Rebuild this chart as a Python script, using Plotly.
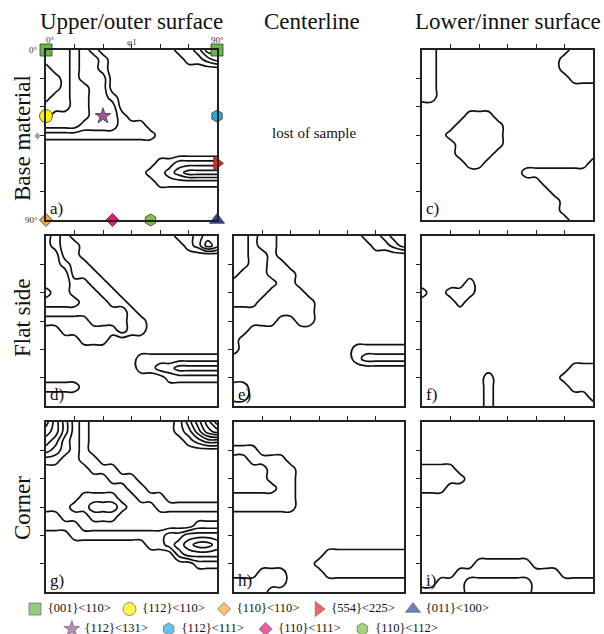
import plotly.graph_objects as go

W, H = 604, 634
SERIF = "Liberation Serif, Times New Roman, serif"

# grid nodes of the phi2 = 45 deg ODF section (degrees)
GRID_DEG = [0, 5, 10, 15, 20, 25, 30, 35, 40, 45, 50, 55, 60, 65, 70, 75, 80, 85, 90]
TICK_DEG = [15, 30, 45, 60, 75]

# ODF contour level at each node: one string per Phi row (0..90 step 5),
# one hex digit per phi1 column (0..90 step 5)
ODF_A = [
    "4443210000000011244",
    "4443221000000001123",
    "5443221000000000000",
    "5543222000000000000",
    "5543322000000000000",
    "5443322100000000000",
    "4443322200000000000",
    "4333322210000000000",
    "3333222211100000000",
    "1111111111110000000",
    "0000000000000000000",
    "0000000000000000000",
    "0000000000001122222",
    "0000000000011234444",
    "0000000000001111111",
    "0000000000000000000",
    "0000000000000000000",
    "0000000000000000000",
    "0000000000000000000",
]
ODF_C = [
    "1100000000000000111",
    "1100000000000001111",
    "1100000000000001111",
    "1100000000000000111",
    "1100000000000000000",
    "1100000000000000000",
    "0000000000000000000",
    "0000011100000000000",
    "0000111110000000000",
    "0001111110000000000",
    "0000111110000000000",
    "0000111100000000000",
    "0000011000000000001",
    "0000000000011111111",
    "0000000000000111111",
    "0000000000000011111",
    "0000000000000001111",
    "0000000000000001111",
    "0000000000000000111",
]
ODF_D = [
    "3210000000000011233",
    "3211000000000001243",
    "3311000000000000000",
    "3321100000000000000",
    "3331110000000000000",
    "3332211000000000000",
    "4332221100000000000",
    "3333222110000000000",
    "2222222221000000000",
    "1111122221100000000",
    "0011111121100000000",
    "0000111000000000000",
    "0000000000000000000",
    "0000000000111111111",
    "0000000000112233333",
    "0000000000000111111",
    "1111000000000000000",
    "0000000000000000000",
    "0000000000000000000",
]
ODF_E = [
    "3321100000000011233",
    "3321100000000001123",
    "3322100000000000000",
    "3322110000000000000",
    "3222111000000000000",
    "2222211000000000000",
    "2222111100000000000",
    "2221111110000000000",
    "1111111110000000000",
    "1111100110000000000",
    "1100000000000000000",
    "1000000000000000000",
    "1000000000000111111",
    "0000000000000122222",
    "0000000000000000000",
    "0000000000000000000",
    "1100000000000000000",
    "1100000000000000000",
    "0000000000000000000",
]
ODF_F = [
    "0000000000000000000",
    "0000000000000000000",
    "0000000000000000000",
    "0000000000000000000",
    "0000000000000000000",
    "0000010000000000000",
    "1001110000000000000",
    "0000100000000000000",
    "0000000000000000000",
    "0000000000000000000",
    "0000000000000000000",
    "0000000000000000000",
    "0000000000000000000",
    "0000000000000000000",
    "0000000000000000111",
    "0000000100000001111",
    "0000000100000000111",
    "0000000100000000001",
    "0000000100000000000",
]
ODF_G = [
    "6420100000000013579",
    "5420100000000012467",
    "4310100000000001233",
    "3210100000000000000",
    "1100110000000000000",
    "0000011100000000000",
    "0000000111000000000",
    "0000000001100000000",
    "0000111100111000000",
    "0001122210001111111",
    "1100011100000000000",
    "1111000000000000111",
    "0001111111111223333",
    "0000000000011234554",
    "0000000000000023333",
    "0000000000000000111",
    "0000000000000000000",
    "0000000000000000000",
    "0000000000000000000",
]
ODF_H = [
    "0000000000000000000",
    "0000000000000000000",
    "0000000000000000000",
    "1110000000000000000",
    "2211110000000000000",
    "2222111000000000000",
    "2222111000000000000",
    "2222211000000000000",
    "1111111000000000000",
    "1111111000000000000",
    "0000000000000000000",
    "0000000000000000000",
    "0000000000000000000",
    "0000000000000000000",
    "0000000000111111111",
    "0000000001111111111",
    "0001110000111111111",
    "1111110000000000000",
    "1111000000000000000",
]
ODF_I = [
    "0000000000000000000",
    "0000000000000000000",
    "0000000000000000000",
    "0000000000000000000",
    "0000000000000000000",
    "1111000000000000000",
    "1111100000000000000",
    "1110000000000000000",
    "0000000000000000000",
    "0000000000000000000",
    "0000000000000000000",
    "0000000000000000000",
    "0000000000000000000",
    "0000000000000000000",
    "0000000000000000000",
    "0000001111110000000",
    "0000111111111110000",
    "0011122222221111111",
    "1111122222221111111",
]

COLUMN_TITLES = ["Upper/outer surface", "Centerline", "Lower/inner surface"]
ROW_TITLES = ["Base material", "Flat side", "Corner"]
MISSING_NOTE = "lost of sample"

# ideal texture components (phi1, Phi) marked on panel a)
COMP_LABELS = ["{001}<110>", "{112}<110>", "{110}<110>", "{554}<225>", "{011}<100>",
               "{112}<131>", "{112}<111>", "{110}<111>", "{110}<112>"]
COMP_PHI1 = [[0, 90], [0], [0], [90], [90], [30], [90], [35], [55]]
COMP_PHI = [[0, 0], [35], [90], [60], [90], [35], [35], [90], [90]]

COMP_SYMBOL = ["square", "circle", "diamond", "triangle-right", "triangle-up",
               "star", "hexagon", "diamond", "hexagon"]
COMP_COLOR = ["#63b946", "#fff200", "#f9a73c", "#ec2227", "#2c4d9e",
              "#a4519b", "#27a9e1", "#e6197a", "#7cc243"]
COMP_SIZE = [12, 13, 10, 13, 13, 12, 12, 10, 12]

PANELS = [
    ("a)", 0, 0, ODF_A),
    ("c)", 0, 2, ODF_C),
    ("d)", 1, 0, ODF_D),
    ("e)", 1, 1, ODF_E),
    ("f)", 1, 2, ODF_F),
    ("g)", 2, 0, ODF_G),
    ("h)", 2, 1, ODF_H),
    ("i)", 2, 2, ODF_I),
]

COL_PX = [(46, 217), (234, 404), (422, 593)]
ROW_PX = [(50, 220), (236, 406), (422, 592)]


def xdom(c):
    return [COL_PX[c][0] / W, COL_PX[c][1] / W]


def ydom(r):
    return [1 - ROW_PX[r][1] / H, 1 - ROW_PX[r][0] / H]


def parse(rows):
    n = len(GRID_DEG)
    return [[int(ch, 16) for ch in row.ljust(n, "0")[:n]] for row in rows]


def esc(s):
    return s.replace("<", "&lt;").replace(">", "&gt;")


fig = go.Figure()
layout = {}
annotations = []

for k, (letter, r, c, rows) in enumerate(PANELS, start=1):
    sfx = "" if k == 1 else str(k)
    xa, ya = "x" + sfx, "y" + sfx
    fig.add_trace(go.Contour(
        x=GRID_DEG, y=GRID_DEG, z=parse(rows), xaxis=xa, yaxis=ya,
        autocontour=False,
        contours=dict(start=0.5, end=12.5, size=1, coloring="lines", showlabels=False),
        line=dict(width=1.7, smoothing=1.3),
        colorscale=[[0, "#111111"], [1, "#111111"]],
        showscale=False, hoverinfo="skip", showlegend=False,
    ))
    axis_common = dict(range=[0, 90], showgrid=False, zeroline=False, showline=True,
                       linecolor="#222222", linewidth=1.8, mirror=True,
                       ticks="outside", ticklen=4, tickwidth=1, tickcolor="#222222",
                       tickvals=TICK_DEG, showticklabels=False, fixedrange=True)
    layout["xaxis" + sfx] = dict(axis_common, domain=xdom(c), anchor=ya, side="top")
    ycommon = dict(axis_common)
    ycommon["range"] = [90, 0]
    layout["yaxis" + sfx] = dict(ycommon, domain=ydom(r), anchor=xa, side="left")
    annotations.append(dict(text=letter, xref=xa, yref=ya, x=0, y=90, xanchor="left",
                            yanchor="bottom", xshift=2, yshift=0, showarrow=False,
                            font=dict(family=SERIF, size=17, color="#111")))

# ideal component markers on panel a)
for lab, p1, ph, sym, col, sz in zip(COMP_LABELS, COMP_PHI1, COMP_PHI, COMP_SYMBOL,
                                     COMP_COLOR, COMP_SIZE):
    fig.add_trace(go.Scatter(
        x=p1, y=ph, xaxis="x", yaxis="y", mode="markers", cliponaxis=False,
        marker=dict(symbol=sym, color=col, size=sz, line=dict(color="#3a3a3a", width=0.8)),
        hoverinfo="skip", showlegend=False,
    ))

# legend drawn on its own axis: item index across, row index down
LEG_ROWS = [list(range(0, 5)), list(range(5, 9))]
LEG_START = [0.0, 0.39]
LEG_STEP = [1.0, 1.025]
TEXT_GAP = 0.135
for row_i, idxs in enumerate(LEG_ROWS):
    xs = [LEG_START[row_i] + LEG_STEP[row_i] * n for n in range(len(idxs))]
    ys = [row_i] * len(idxs)
    fig.add_trace(go.Scatter(
        x=xs, y=ys, xaxis="x9", yaxis="y9", mode="markers", cliponaxis=False,
        marker=dict(symbol=[COMP_SYMBOL[i] for i in idxs], color=[COMP_COLOR[i] for i in idxs],
                    size=[COMP_SIZE[i] for i in idxs], line=dict(color="#3a3a3a", width=0.8)),
        hoverinfo="skip", showlegend=False,
    ))
    fig.add_trace(go.Scatter(
        x=[x + TEXT_GAP for x in xs], y=ys, xaxis="x9", yaxis="y9", mode="text",
        cliponaxis=False, text=[esc(COMP_LABELS[i]) for i in idxs],
        textposition="middle right",
        textfont=dict(family=SERIF, size=12.5, color="#111"),
        hoverinfo="skip", showlegend=False,
    ))

layout["xaxis9"] = dict(domain=[0, 1], range=[-35 / 94.5, (W - 35) / 94.5], visible=False,
                        anchor="y9", fixedrange=True)
layout["yaxis9"] = dict(domain=[0, 38 / H], range=[1.25, -0.65], visible=False,
                        anchor="x9", fixedrange=True)

# column and row titles
COL_TITLE_X = [131, 312, 508]
for t, xpx in zip(COLUMN_TITLES, COL_TITLE_X):
    annotations.append(dict(text=t, xref="paper", yref="paper", x=xpx / W, y=1 - 21 / H,
                            xanchor="center", yanchor="middle", showarrow=False,
                            font=dict(family=SERIF, size=23, color="#111")))
ROW_TITLE_Y = [138, 318, 508]
for t, ypx in zip(ROW_TITLES, ROW_TITLE_Y):
    annotations.append(dict(text=t, xref="paper", yref="paper", x=22 / W, y=1 - ypx / H,
                            xanchor="center", yanchor="middle", textangle=-90,
                            showarrow=False, font=dict(family=SERIF, size=23, color="#111")))
annotations.append(dict(text=MISSING_NOTE, xref="paper", yref="paper", x=314 / W,
                        y=1 - 133 / H, xanchor="center", yanchor="middle", showarrow=False,
                        font=dict(family=SERIF, size=15, color="#111")))

# axis labels of panel a)
small = dict(family=SERIF, size=9, color="#333")
annotations += [
    dict(text="0°", xref="x", yref="y", x=0, y=0, xanchor="left", yanchor="bottom",
         yshift=3, xshift=-2, showarrow=False, font=small),
    dict(text="90°", xref="x", yref="y", x=90, y=0, xanchor="center", yanchor="bottom",
         yshift=3, showarrow=False, font=small),
    dict(text="φ1", xref="x", yref="y", x=45, y=0, xanchor="center", yanchor="bottom",
         yshift=1, showarrow=False, font=small),
    dict(text="0°", xref="x", yref="y", x=0, y=0, xanchor="right", yanchor="middle",
         xshift=-6, showarrow=False, font=small),
    dict(text="90°", xref="x", yref="y", x=0, y=90, xanchor="right", yanchor="middle",
         xshift=-6, showarrow=False, font=small),
    dict(text="ϕ", xref="x", yref="y", x=0, y=45, xanchor="right", yanchor="middle",
         xshift=-4, showarrow=False, font=small),
]

fig.update_layout(
    width=W, height=H, autosize=False,
    margin=dict(l=0, r=0, t=0, b=0),
    paper_bgcolor="white", plot_bgcolor="white",
    showlegend=False, annotations=annotations, **layout,
)

fig.write_html("out.html", config={"displayModeBar": False, "staticPlot": True},
               post_script="document.body.style.margin='0px';"
                           "document.body.style.overflow='hidden';")
